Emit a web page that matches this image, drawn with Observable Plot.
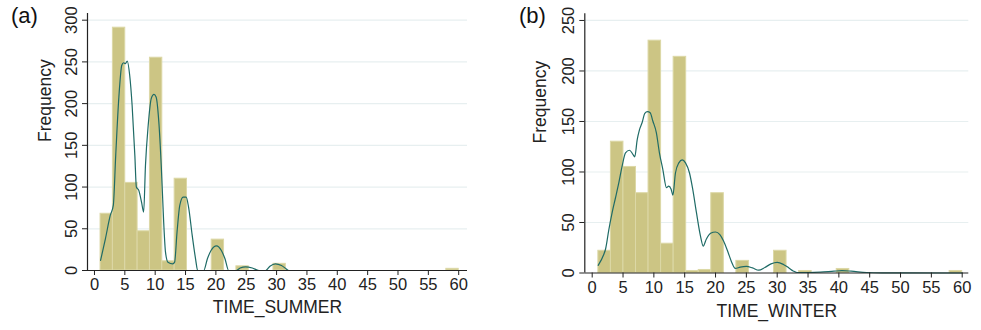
<!DOCTYPE html>
<html>
<head>
<meta charset="utf-8">
<script src="https://cdn.jsdelivr.net/npm/d3@7"></script>
<script src="https://cdn.jsdelivr.net/npm/@observablehq/plot@0.6"></script>
<style>
  html, body { margin: 0; padding: 0; background: #ffffff; }
  #wrap { position: relative; width: 981px; height: 330px; display: flex; font-family: "Liberation Sans", Arial, sans-serif; }
  .tag { position: absolute; top: 3px; font-size: 22px; color: #111; font-family: "Liberation Sans", Arial, sans-serif; }
</style>
</head>
<body>
<div id="wrap"></div>
<script>
// ---- data ----
const binStart = 1, binEnd = 60, binCount = 29;

const summerCounts = [68, 291, 105, 47, 255, 11, 110, 0, 0, 37, 0, 5, 0, 0, 8, 0, 0, 0, 0, 0, 0, 0, 0, 0, 0, 0, 0, 0, 2];
const winterCounts = [22, 130, 105, 79, 230, 29, 214, 2, 3, 79, 0, 12, 0, 0, 22, 0, 2, 0, 0, 4, 0, 0, 0, 0, 0, 0, 0, 0, 2];

const summerCurveX = [1.0, 1.8, 2.6, 3.1, 3.5, 4.0, 4.5, 4.8, 5.1, 5.4, 5.8, 6.2, 6.65, 6.9, 7.3, 7.75, 8.1, 8.4, 8.85, 9.35, 9.8, 10.15, 10.6, 11.0, 11.4, 11.7, 12.1, 12.9, 13.2, 13.6, 14.05, 14.6, 15.1, 15.5, 16.1, 16.65, 17.0, 18.0, 18.6, 19.2, 20.1, 20.9, 21.5, 22.1, 23.3, 24.0, 24.9, 26.0, 27.1, 28.2, 28.9, 29.8, 30.8, 31.4, 32.0, 60];
const summerCurveY = [12, 38, 66, 78, 138, 206, 246, 249, 248, 251, 234, 198, 138, 100, 96, 82, 70, 126, 174, 206, 211, 208, 178, 126, 58, 22, 10, 8, 10, 46, 78, 88, 88, 76, 42, 14, 0, 0, 14, 24, 29.5, 24, 14, 0, 0, 3, 4.4, 3, 0, 0, 5, 8, 6, 3, 0, 0];

const winterCurveX = [0.97, 1.89, 2.16, 2.7, 3.24, 3.78, 4.32, 4.86, 5.4, 6.05, 6.6, 6.9, 7.3, 7.67, 8.1, 8.53, 8.97, 9.4, 9.83, 10.4, 10.9, 11.45, 12.05, 12.4, 12.8, 13.08, 13.5, 14.05, 14.6, 15.13, 15.78, 16.3, 16.9, 17.56, 18.0, 18.5, 19.2, 20.0, 20.7, 21.3, 22.0, 22.6, 23.2, 24.0, 25.0, 26.0, 27.0, 28.0, 29.0, 30.0, 31.0, 31.9, 32.6, 33.2, 35, 37, 39.2, 40.5, 42, 44.5, 47, 60];
const winterCurveY = [7.6, 18.5, 23.5, 43, 60, 74.5, 89.4, 106, 119, 121.5, 117.5, 115, 132, 142, 149, 158, 159.7, 158.7, 150.5, 139, 119, 102.7, 84.5, 86, 83, 77, 99, 109, 112, 109, 99, 83, 60, 36.6, 26.7, 33.4, 39.3, 40.6, 38, 31.7, 21, 11, 4.5, 5.8, 6.5, 5, 2.8, 5.5, 9, 10.5, 8.5, 5, 2, 0.5, 0.5, 0.8, 1.8, 2.3, 1.8, 0.5, 0.2, 0];

const xTicks = [0, 5, 10, 15, 20, 25, 30, 35, 40, 45, 50, 55, 60];
const summerYTicks = [0, 50, 100, 150, 200, 250, 300];
const winterYTicks = [0, 50, 100, 150, 200, 250];

const panelTags = ["(a)", "(b)"];
const xLabels = ["TIME_SUMMER", "TIME_WINTER"];
const yLabel = "Frequency";

// ---- styles ----
const barFill = "#ccc584";
const barEdge = "#dcd8a6";
const curveColor = "#1f6b66";
const gridColor = "#e7eff0";
const axisColor = "#222";
const fontFamily = "'Liberation Sans', Arial, sans-serif";

function bins(counts) {
  const w = (binEnd - binStart) / binCount;
  return counts.map((c, i) => ({x1: binStart + i * w, x2: binStart + (i + 1) * w, y: c}));
}
function curve(xs, ys) { return xs.map((x, i) => ({x, y: ys[i]})); }

function panel(cfg) {
  const {width, counts, cx, cy, yTicks, xDomain, yDomain, marginLeft, marginRight, marginTop, marginBottom, xLabel, xLabelDy, yLabelDx, yTickPad} = cfg;
  return Plot.plot({
    width, height: 330,
    marginLeft, marginRight, marginTop, marginBottom,
    style: {fontFamily, fontSize: "16.5px", color: axisColor, background: "transparent"},
    x: {domain: xDomain},
    y: {domain: yDomain},
    marks: [
      Plot.gridY(yTicks.filter(d => d > 0), {stroke: gridColor, strokeOpacity: 1, strokeWidth: 1.2}),
      Plot.rectY(bins(counts).filter(d => d.y > 0), {x1: "x1", x2: "x2", y: "y", fill: barFill, stroke: barEdge, strokeWidth: 1}),
      Plot.line(curve(cx, cy), {x: "x", y: "y", stroke: curveColor, strokeWidth: 1.2, curve: "monotone-x"}),
      Plot.ruleY([yDomain[0]], {stroke: axisColor, strokeWidth: 1.2}),
      Plot.ruleX([xDomain[0]], {stroke: axisColor, strokeWidth: 1.2}),
      Plot.axisX({ticks: xTicks, tickSize: 5, tickPadding: 3, label: null, fontSize: 16.5, stroke: axisColor}),
      Plot.axisY({ticks: yTicks, tickSize: 5, tickPadding: yTickPad, tickRotate: -90, label: null, fontSize: 16.5, stroke: axisColor}),
      Plot.text([xLabel], {frameAnchor: "bottom", dy: xLabelDy, fontSize: 17.5, fill: axisColor, text: d => d}),
      Plot.text([yLabel], {frameAnchor: "left", dx: yLabelDx, rotate: -90, fontSize: 17.5, fill: axisColor, text: d => d})
    ]
  });
}

const wrap = document.getElementById("wrap");
wrap.appendChild(panel({
  width: 490, counts: summerCounts, cx: summerCurveX, cy: summerCurveY, yTicks: summerYTicks,
  xDomain: [-1.15, 61.45], yDomain: [0, 308],
  marginLeft: 87, marginRight: 23, marginTop: 13, marginBottom: 60,
  xLabel: xLabels[0], xLabelDy: 42, yLabelDx: -42, yTickPad: 6
}));
wrap.appendChild(panel({
  width: 491, counts: winterCounts, cx: winterCurveX, cy: winterCurveY, yTicks: winterYTicks,
  xDomain: [-1.2, 61.07], yDomain: [0, 256.6],
  marginLeft: 94.3, marginRight: 12.7, marginTop: 13.3, marginBottom: 57.5,
  xLabel: xLabels[1], xLabelDy: 44, yLabelDx: -44, yTickPad: 6
}));

const tagA = document.createElement("div");
tagA.className = "tag"; tagA.style.left = "11px"; tagA.textContent = panelTags[0];
const tagB = document.createElement("div");
tagB.className = "tag"; tagB.style.left = "519px"; tagB.textContent = panelTags[1];
wrap.appendChild(tagA); wrap.appendChild(tagB);
</script>
</body>
</html>
